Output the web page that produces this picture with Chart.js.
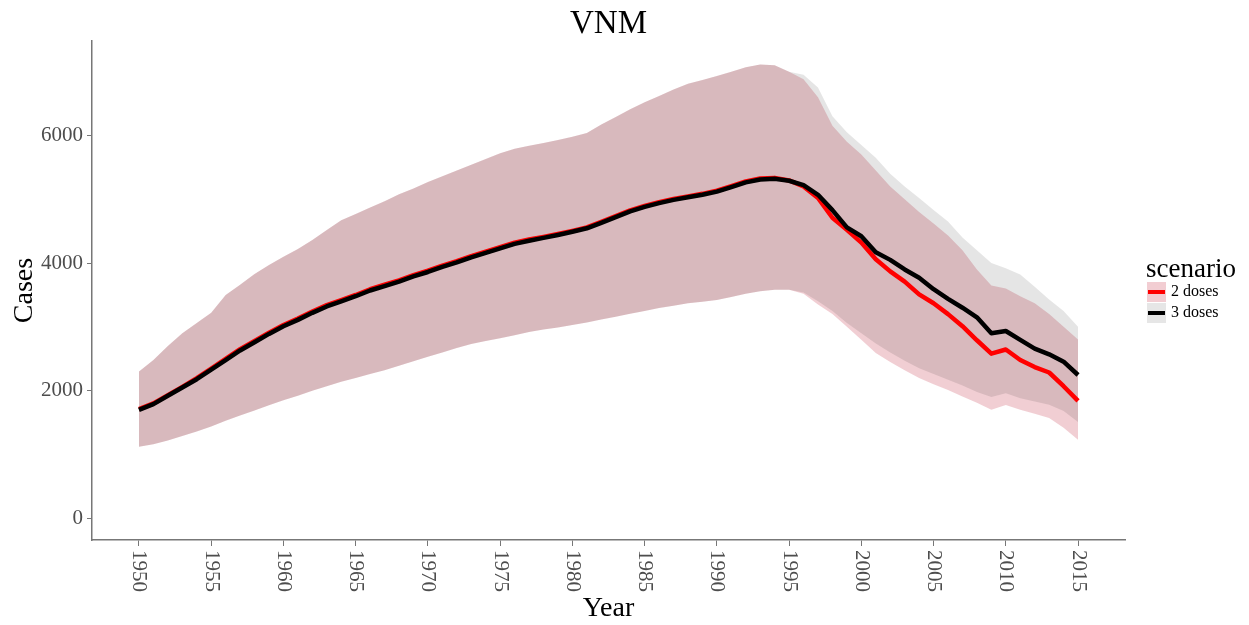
<!DOCTYPE html>
<html>
<head>
<meta charset="utf-8">
<title>VNM</title>
<script src="https://cdn.jsdelivr.net/npm/chart.js@4"></script>
<style>
  html, body { margin: 0; padding: 0; background: #fff; }
  #wrap { width: 1249px; height: 625px; }
</style>
</head>
<body>
<div id="wrap"><canvas id="grafico" width="1249" height="625"></canvas></div>
<script>
//* Datos

var chartTitle = "VNM";
var years = [
  1950, 1951, 1952, 1953, 1954, 1955, 1956, 1957, 1958, 1959,
  1960, 1961, 1962, 1963, 1964, 1965, 1966, 1967, 1968, 1969,
  1970, 1971, 1972, 1973, 1974, 1975, 1976, 1977, 1978, 1979,
  1980, 1981, 1982, 1983, 1984, 1985, 1986, 1987, 1988, 1989,
  1990, 1991, 1992, 1993, 1994, 1995, 1996, 1997, 1998, 1999,
  2000, 2001, 2002, 2003, 2004, 2005, 2006, 2007, 2008, 2009,
  2010, 2011, 2012, 2013, 2014, 2015
];
var xTicks = [1950, 1955, 1960, 1965, 1970, 1975, 1980, 1985, 1990, 1995, 2000, 2005, 2010, 2015];
var yTicks = [0, 2000, 4000, 6000];
var scenarios = ["2 doses", "3 doses"];

// mean cases, 2 doses (red)
var cases2 = [
  1710, 1800, 1930, 2060, 2195, 2345, 2500, 2650, 2780, 2910,
  3030, 3130, 3240, 3340, 3420, 3500, 3590, 3660, 3730, 3810,
  3880, 3960, 4030, 4110, 4180, 4250, 4320, 4370, 4410, 4455,
  4505, 4560, 4645, 4735, 4825, 4895, 4955, 5005, 5045, 5085,
  5135, 5205, 5280, 5325, 5335, 5295, 5200, 5020, 4710, 4520,
  4320, 4060, 3870, 3710, 3510, 3370, 3200, 3010, 2790, 2580,
  2645, 2480, 2370, 2285, 2070, 1840
];
// mean cases, 3 doses (black)
var cases3 = [
  1700, 1790, 1920, 2050, 2180, 2330, 2480, 2630, 2760, 2890,
  3010, 3110, 3220, 3320, 3400, 3480, 3570, 3640, 3710, 3790,
  3860, 3940, 4010, 4090, 4160, 4230, 4300, 4350, 4395, 4440,
  4490, 4545, 4630, 4720, 4810, 4880, 4940, 4990, 5030, 5070,
  5120, 5190, 5265, 5310, 5320, 5290, 5220, 5070, 4830, 4560,
  4420, 4170, 4050, 3900, 3770, 3590, 3440, 3300, 3150, 2900,
  2935, 2795, 2660, 2570, 2455, 2246
];
// bandas
var upper2 = [
  2300, 2480, 2700, 2900, 3060, 3220, 3500, 3660, 3830, 3970,
  4100, 4220, 4360, 4520, 4670, 4770, 4870, 4970, 5080, 5170,
  5270, 5360, 5450, 5540, 5630, 5720, 5790, 5840, 5880, 5930,
  5980, 6040, 6170, 6290, 6410, 6520, 6620, 6720, 6810, 6870,
  6930, 7000, 7070, 7110, 7100, 7000, 6880, 6600, 6150, 5900,
  5700, 5450, 5200, 5000, 4800, 4620, 4430, 4200, 3900, 3650,
  3600, 3480, 3370, 3200, 3000, 2800
];
var lower2 = [
  1120, 1160, 1220, 1290, 1360, 1440, 1530, 1610, 1690, 1770,
  1850, 1920, 2000, 2070, 2140, 2200, 2260, 2320, 2390, 2460,
  2530, 2600, 2670, 2730, 2780, 2820, 2870, 2920, 2960, 2990,
  3030, 3070, 3115, 3160, 3205, 3250, 3295, 3330, 3370, 3395,
  3420, 3470, 3520, 3560, 3580, 3580, 3520, 3350, 3200, 3000,
  2800, 2590, 2450, 2320, 2200, 2100, 2010, 1910, 1810, 1700,
  1775, 1700, 1640, 1570, 1420, 1230
];
var upper3 = [
  2300, 2480, 2700, 2900, 3060, 3220, 3500, 3660, 3830, 3970,
  4100, 4220, 4360, 4520, 4670, 4770, 4870, 4970, 5080, 5170,
  5270, 5360, 5450, 5540, 5630, 5720, 5790, 5840, 5880, 5930,
  5980, 6040, 6170, 6290, 6410, 6520, 6620, 6720, 6810, 6870,
  6930, 7000, 7070, 7110, 7100, 7000, 6950, 6750, 6300, 6050,
  5850, 5650, 5400, 5200, 5020, 4830, 4650, 4400, 4200, 4000,
  3920, 3820, 3630, 3430, 3250, 3000
];
var lower3 = [
  1120, 1160, 1220, 1290, 1360, 1440, 1530, 1610, 1690, 1770,
  1850, 1920, 2000, 2070, 2140, 2200, 2260, 2320, 2390, 2460,
  2530, 2600, 2670, 2730, 2780, 2820, 2870, 2920, 2960, 2990,
  3030, 3070, 3115, 3160, 3205, 3250, 3295, 3330, 3370, 3395,
  3420, 3470, 3520, 3560, 3580, 3580, 3540, 3400, 3250, 3060,
  2900, 2740, 2600, 2470, 2350, 2260, 2170, 2080, 1980, 1900,
  1960, 1880, 1830, 1780, 1680, 1510
];

var lineColors = ["#ff0000", "#000000"];
var bandColors = ["rgba(200, 60, 80, 0.25)", "rgba(0, 0, 0, 0.1)"];
var keyColors = ["rgb(242, 205, 210)", "rgb(230, 230, 230)"];
var serif = "'Liberation Serif', 'Times New Roman', serif";

function puntos(serie) {
  return years.map(function (anio, i) {
    return { x: anio, y: serie[i] };
  });
}

//!-----------------------------------------------------------------------------

//* Titulo, etiquetas del eje x (giradas hacia abajo) y leyenda

var extras = {
  id: "extras",
  afterDraw: function (chart) {
    var ctx = chart.ctx;
    var xs = chart.scales.x;
    var area = chart.chartArea;

    ctx.save();

    // titulo centrado sobre el panel
    ctx.fillStyle = "#000";
    ctx.font = "33px " + serif;
    ctx.textAlign = "center";
    ctx.textBaseline = "alphabetic";
    ctx.fillText(chartTitle, (area.left + area.right) / 2, 33);

    ctx.fillStyle = "#4d4d4d";
    ctx.font = "21px " + serif;
    ctx.textAlign = "left";
    ctx.textBaseline = "middle";
    xTicks.forEach(function (t) {
      ctx.save();
      ctx.translate(xs.getPixelForValue(t), xs.top + 10);
      ctx.rotate(Math.PI / 2);
      ctx.fillText(String(t), 0, 0);
      ctx.restore();
    });

    // leyenda
    ctx.fillStyle = "#000";
    ctx.font = "27px " + serif;
    ctx.textBaseline = "alphabetic";
    ctx.fillText("scenario", 1146, 277);
    ctx.font = "16px " + serif;
    ctx.textBaseline = "middle";
    scenarios.forEach(function (nombre, i) {
      var top = 282 + i * 21;
      ctx.fillStyle = keyColors[i];
      ctx.fillRect(1147, top, 19, 20);
      ctx.strokeStyle = lineColors[i];
      ctx.lineWidth = 4;
      ctx.beginPath();
      ctx.moveTo(1148, top + 10);
      ctx.lineTo(1165, top + 10);
      ctx.stroke();
      ctx.fillStyle = "#000";
      ctx.fillText(nombre, 1171, top + 10);
    });
    ctx.restore();
  }
};

//* Grafico

document.addEventListener("DOMContentLoaded", function () {
  var ctx = document.getElementById("grafico").getContext("2d");

  var banda = { borderWidth: 0, pointRadius: 0, tension: 0 };
  var linea = { borderWidth: 4.5, pointRadius: 0, tension: 0, fill: false, borderJoinStyle: "round" };

  new Chart(ctx, {
    type: "line",
    data: {
      datasets: [
        Object.assign({ label: scenarios[1], data: puntos(cases3), borderColor: lineColors[1] }, linea),
        Object.assign({ label: scenarios[0], data: puntos(cases2), borderColor: lineColors[0] }, linea),
        Object.assign({ label: "upper3", data: puntos(upper3), fill: "+1", backgroundColor: bandColors[1] }, banda),
        Object.assign({ label: "lower3", data: puntos(lower3), fill: false }, banda),
        Object.assign({ label: "upper2", data: puntos(upper2), fill: "+1", backgroundColor: bandColors[0] }, banda),
        Object.assign({ label: "lower2", data: puntos(lower2), fill: false }, banda)
      ]
    },
    options: {
      responsive: false,
      animation: false,
      layout: { padding: { top: 41, right: 124 } },
      plugins: {
        legend: { display: false },
        tooltip: { enabled: false },
        title: { display: false }
      },
      scales: {
        x: {
          type: "linear",
          min: 1946.75,
          max: 2018.25,
          afterBuildTicks: function (scale) {
            scale.ticks = xTicks.map(function (v) { return { value: v }; });
          },
          afterFit: function (scale) { scale.height = 85; },
          ticks: { color: "rgba(0,0,0,0)", font: { family: serif, size: 21 }, minRotation: 90, maxRotation: 90 },
          grid: { display: true, drawOnChartArea: false, color: "#777", tickLength: 6 },
          border: { color: "#777", width: 1.5 },
          title: {
            display: true,
            text: "Year",
            color: "#000",
            font: { family: serif, size: 28 },
            padding: { top: 0, bottom: 0 }
          }
        },
        y: {
          min: -340,
          max: 7480,
          afterBuildTicks: function (scale) {
            scale.ticks = yTicks.map(function (v) { return { value: v }; });
          },
          afterFit: function (scale) { scale.width = 92; },
          ticks: {
            color: "#4d4d4d",
            font: { family: serif, size: 21 },
            padding: 4,
            callback: function (valor) { return String(valor); }
          },
          grid: { display: true, drawOnChartArea: false, color: "#777", tickLength: 5 },
          border: { color: "#777", width: 1.5 },
          title: {
            display: true,
            text: "Cases",
            color: "#000",
            font: { family: serif, size: 28 },
            padding: { top: 8, bottom: 0 }
          }
        }
      }
    },
    plugins: [extras]
  });
});
</script>
</body>
</html>
